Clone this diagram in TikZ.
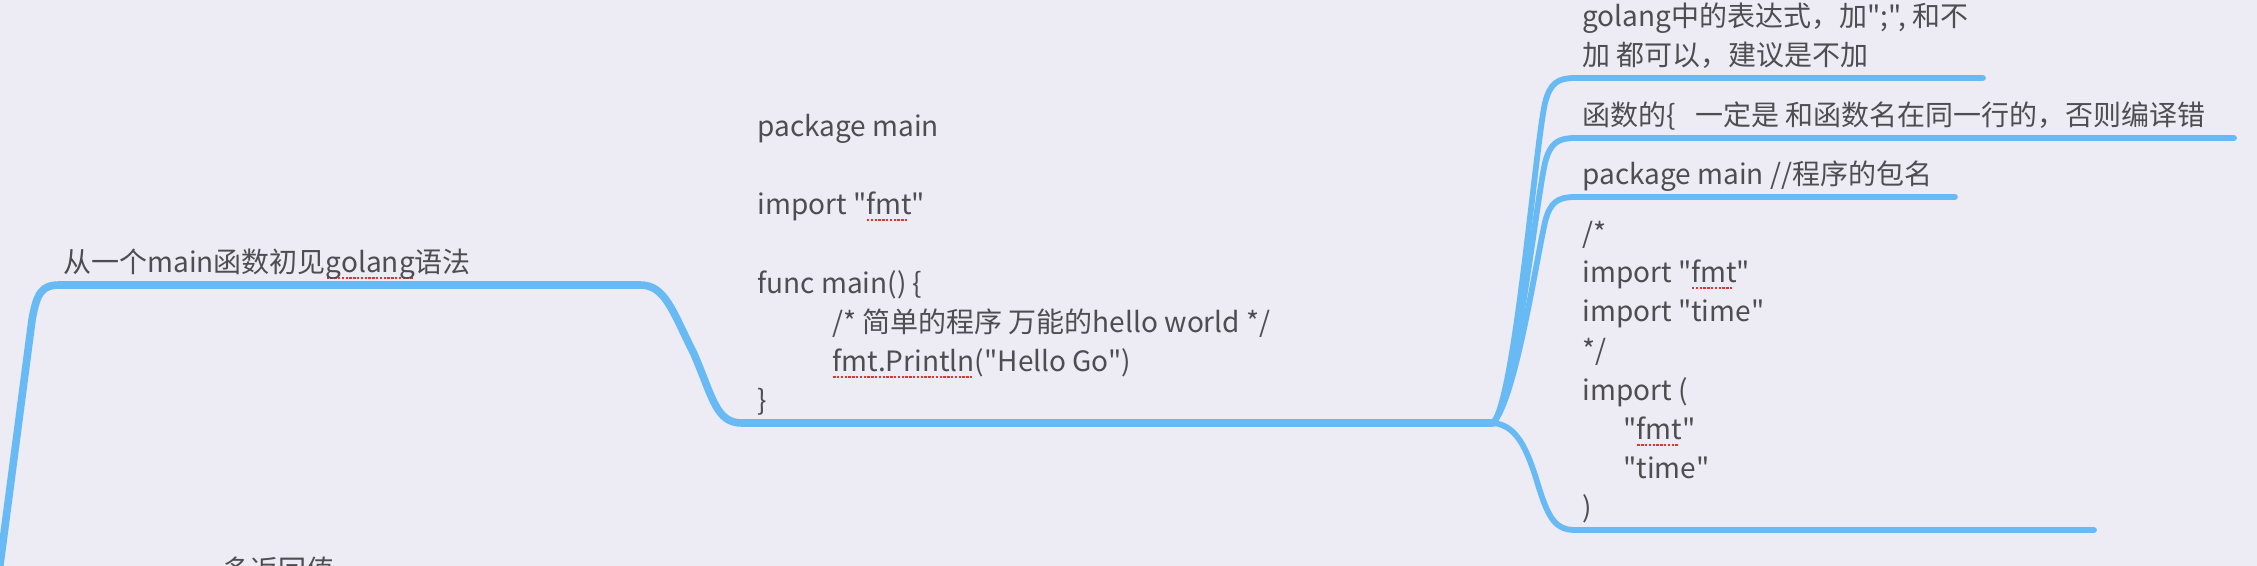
\documentclass[tikz,border=0pt]{standalone}
\usepackage{fontspec}
\setmainfont{Noto Sans CJK SC}[Ligatures=TeXOff]
\definecolor{bg}{RGB}{237,235,243}
\definecolor{branch}{RGB}{104,186,244}
\definecolor{txt}{RGB}{78,78,82}
\definecolor{spellred}{RGB}{232,50,50}
\newsavebox\splbox
\newcommand\spl[1]{\sbox\splbox{#1}\leavevmode\rlap{\textcolor{spellred}{\hbox to\wd\splbox{\leaders\hbox to 1.9pt{\hss\rule[-3.4pt]{1.2pt}{1.2pt}\hss}\hfill}}}\usebox\splbox}
\begin{document}
\begin{tikzpicture}[x=0.5pt,y=-0.5pt,
  topic/.style={anchor=south west, inner sep=0pt, text depth=0pt, align=left, text=txt,
    font=\fontsize{14pt}{19.6pt}\selectfont},
  mainline/.style={draw=branch, line width=3.8pt, line cap=round, line join=round},
  subline/.style={draw=branch, line width=2.9pt, line cap=round, line join=round}]
\fill[bg] (0,0) rectangle (2257,566);
\useasboundingbox (0,0) rectangle (2257,566);

% topics
\node[topic] (title) at (63,273) {从一个main函数初见\spl{golang}语法};
\node[topic] (code) at (757,411) {package main\\\mbox{}\\import "\spl{fmt}"\\\mbox{}\\func main() \{\\\hspace*{37.5pt}/* 简单的程序 万能的hello world */\\\hspace*{37.5pt}\spl{fmt.Println}("Hello Go")\\\}};
\node[topic] (r1) at (1582,66) {golang中的表达式，加";", 和不\\加 都可以，建议是不加};
\node[topic] (r2) at (1582,126) {函数的\{\hspace{0.7em}一定是 和函数名在同一行的，否则编译错};
\node[topic] (r3) at (1582,185) {package main //程序的包名};
\node[topic] (r4) at (1582,518) {/*\\import "\spl{fmt}"\\import "time"\\\mbox{}*/\\import (\\\hspace*{20.5pt}"\spl{fmt}"\\\hspace*{20.5pt}"time"\\)};
\node[anchor=base west, inner sep=0pt, text=txt, font=\fontsize{14pt}{19.6pt}\selectfont] (r5) at (222,580) {多返回值};

% connector points
\coordinate (root) at (-2,580);
\coordinate (tL) at (60,285);
\coordinate (tR) at (640,285);
\coordinate (cL) at (742,423);
\coordinate (j) at (1493,423);
\coordinate (e1) at (1983,78);
\coordinate (e2) at (2234,138);
\coordinate (e3) at (1955,197);
\coordinate (e4) at (2094,530);

% main connectors
\draw[mainline] (root) -- (32,320) .. controls (37,292) and (42,285) .. (tL) -- (tR)
  .. controls (665,285) and (672,310) .. (694,354) .. controls (713,398) and (716,423) .. (cL) -- (j);

% branches
\draw[subline] (j) .. controls (1515,400) and (1535,148) .. (1545,103) .. controls (1550,83) and (1558,78) .. (1575,78) -- (e1);
\draw[subline] (j) .. controls (1515,400) and (1535,208) .. (1545,163) .. controls (1550,143) and (1558,138) .. (1575,138) -- (e2);
\draw[subline] (j) .. controls (1515,400) and (1535,267) .. (1545,222) .. controls (1550,202) and (1558,197) .. (1575,197) -- (e3);
\draw[subline] (j) .. controls (1515,425) and (1525,445) .. (1535,475) .. controls (1547,515) and (1553,530) .. (1575,530) -- (e4);
\end{tikzpicture}
\end{document}
